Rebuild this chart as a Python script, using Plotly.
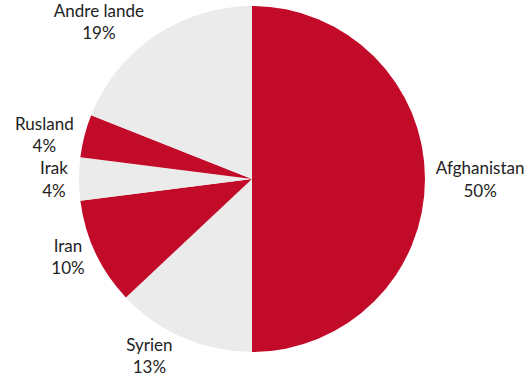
import plotly.graph_objects as go

labels = ["Afghanistan", "Syrien", "Iran", "Irak", "Rusland", "Andre lande"]
values = [50, 13, 10, 4, 4, 19]
colors = ["#C20A29", "#EBEBEB", "#C20A29", "#EBEBEB", "#C20A29", "#EBEBEB"]

fig = go.Figure(go.Pie(
    labels=labels,
    values=values,
    sort=False,
    direction="clockwise",
    rotation=0,
    marker=dict(colors=colors, line=dict(width=0)),
    texttemplate="%{label}<br>%{value}%",
    textposition="outside",
    automargin=False,
    textfont=dict(family="Lato", size=17, color="#222222"),
    showlegend=False,
    hoverinfo="label+percent",
    domain=dict(x=[0.0981, 0.8528], y=[0.0974, 0.9846]),
))

fig.update_layout(
    width=530, height=390,
    margin=dict(l=0, r=0, t=0, b=0, autoexpand=False),
    paper_bgcolor="white",
    plot_bgcolor="white",
)

fig.write_html(
    "out.html",
    config={"displayModeBar": False},
    post_script="document.body.style.margin='0px';",
)
